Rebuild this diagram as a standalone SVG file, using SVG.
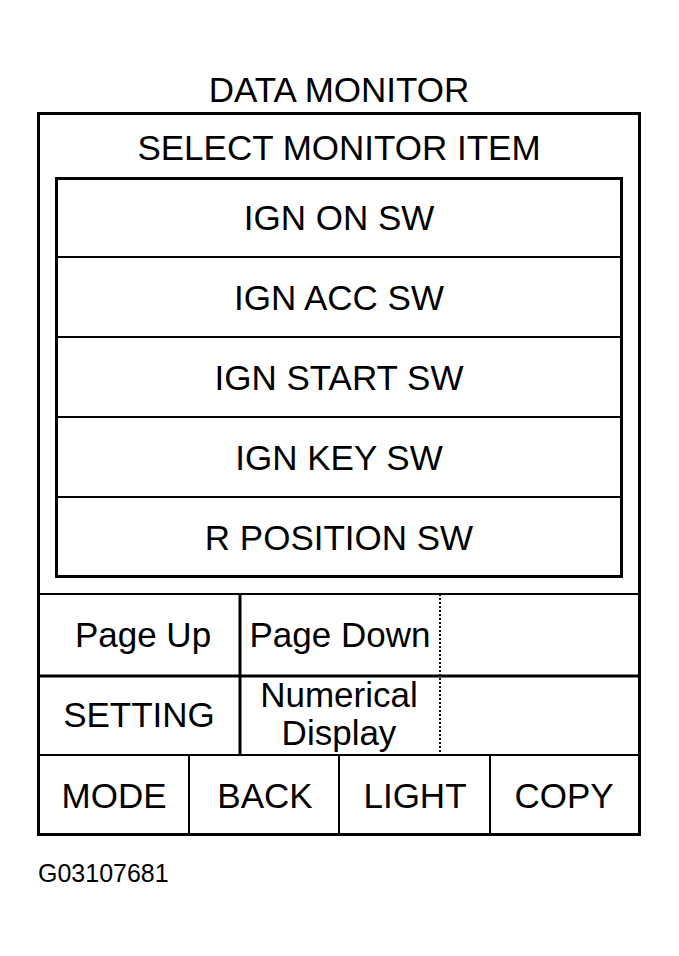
<svg xmlns="http://www.w3.org/2000/svg" width="679" height="956" viewBox="0 0 679 956">
<style>
.t{font-family:"Liberation Sans",Arial,sans-serif;font-size:35px;fill:#000;text-anchor:middle}
.b{fill:none;stroke:#000;stroke-width:3}
.l{fill:none;stroke:#000;stroke-width:2}
.d{fill:none;stroke:#000;stroke-width:2;stroke-dasharray:2 2}
</style>
<rect width="679" height="956" fill="#fff"/>
<g id="title"><text class="t" x="339" y="102" font-size="34">DATA MONITOR</text></g>
<g id="frame">
<rect class="b" x="38.5" y="113.5" width="601" height="721"/>
<text class="t" x="339" y="160">SELECT MONITOR ITEM</text>
</g>
<g id="list">
<rect class="b" x="56.5" y="178.5" width="565" height="398"/>
<line class="l" x1="56" y1="257" x2="622" y2="257"/>
<line class="l" x1="56" y1="337" x2="622" y2="337"/>
<line class="l" x1="56" y1="417" x2="622" y2="417"/>
<line class="l" x1="56" y1="497" x2="622" y2="497"/>
</g>
<g id="item1"><text class="t" x="339" y="230">IGN ON SW</text></g>
<g id="item2"><text class="t" x="339" y="310">IGN ACC SW</text></g>
<g id="item3"><text class="t" x="339" y="390">IGN START SW</text></g>
<g id="item4"><text class="t" x="339" y="470">IGN KEY SW</text></g>
<g id="item5"><text class="t" x="339" y="550">R POSITION SW</text></g>
<g id="grid">
<line class="l" x1="38" y1="594" x2="640" y2="594"/>
<line class="b" x1="38" y1="676" x2="640" y2="676"/>
<line class="l" x1="38" y1="755" x2="640" y2="755"/>
<line class="b" x1="240" y1="594" x2="240" y2="755"/>
<line class="d" x1="440" y1="594" x2="440" y2="755"/>
<line class="l" x1="189" y1="755" x2="189" y2="835"/>
<line class="l" x1="339" y1="755" x2="339" y2="835"/>
<line class="l" x1="490" y1="755" x2="490" y2="835"/>
</g>
<g id="pageup"><text class="t" x="143" y="647">Page Up</text></g>
<g id="pagedown"><text class="t" x="340" y="647">Page Down</text></g>
<g id="setting"><text class="t" x="139" y="727">SETTING</text></g>
<g id="numerical"><text class="t" x="339" y="707">Numerical</text><text class="t" x="339" y="745">Display</text></g>
<g id="mode"><text class="t" x="114" y="808">MODE</text></g>
<g id="back"><text class="t" x="265" y="808">BACK</text></g>
<g id="light"><text class="t" x="415" y="808">LIGHT</text></g>
<g id="copy"><text class="t" x="564" y="808">COPY</text></g>
<g id="code"><text x="38" y="882" font-family="'Liberation Sans',Arial,sans-serif" font-size="25">G03107681</text></g>
</svg>
